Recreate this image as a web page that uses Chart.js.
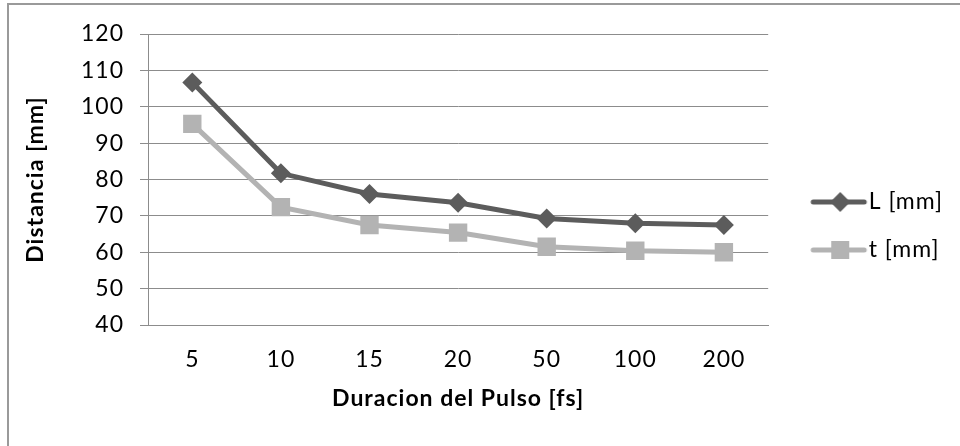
<!DOCTYPE html>
<html>
<head>
<meta charset="utf-8">
<script src="https://cdn.jsdelivr.net/npm/chart.js@4/dist/chart.umd.min.js"></script>
<style>
  html, body { margin: 0; padding: 0; background: #fff; }
  #wrap { position: relative; width: 960px; height: 446px; }
</style>
</head>
<body>
<div id="wrap"><canvas id="chart" width="960" height="446"></canvas></div>
<script>
// datos
var categorias = ['5', '10', '15', '20', '50', '100', '200'];
var serieL = [106.7, 81.7, 76, 73.6, 69.3, 68, 67.5];
var serieT = [95.3, 72.4, 67.5, 65.4, 61.5, 60.4, 60];
var nombres = ['L [mm]', 't [mm]'];

var colorL = '#5c5c5c';
var colorT = '#b3b3b3';
var gris = '#8c8c8c';
var fuente = 'Lato, "Open Sans", sans-serif';
var tam = 23;

// icono de leyenda: linea con marcador
function iconoLeyenda(color, forma) {
    var c = document.createElement('canvas');
    c.width = 90; c.height = 24;
    var g = c.getContext('2d');
    g.strokeStyle = color;
    g.lineWidth = 5;
    g.lineCap = 'round';
    g.beginPath(); g.moveTo(33, 12); g.lineTo(84, 12); g.stroke();
    g.fillStyle = color;
    if (forma === 'rombo') {
        g.beginPath();
        g.moveTo(60, 2); g.lineTo(70, 12); g.lineTo(60, 22); g.lineTo(50, 12);
        g.closePath(); g.fill();
    } else {
        g.fillRect(51, 3, 18, 18);
    }
    return c;
}
var iconos = [iconoLeyenda(colorL, 'rombo'), iconoLeyenda(colorT, 'cuadro')];

// marco del grafico + espaciado de letras (tipo Calibri)
var marco = {
    id: 'marco',
    beforeUpdate: function(chart) { chart.ctx.letterSpacing = '1px'; },
    beforeDraw: function(chart) {
        var ctx = chart.ctx;
        ctx.letterSpacing = '1px';
        ctx.save();
        ctx.fillStyle = '#9a9a9a';
        ctx.fillRect(7, 3, 2, 446);
        ctx.fillRect(7, 3, 960, 2);
        ctx.restore();
    }
};

new Chart(document.getElementById('chart'), {
    type: 'line',
    data: {
        labels: categorias,
        datasets: [{
            label: nombres[0],
            data: serieL,
            borderColor: colorL,
            backgroundColor: colorL,
            borderWidth: 5,
            pointStyle: 'rectRot',
            pointRadius: 10,
            pointBorderWidth: 0,
            pointBackgroundColor: colorL,
            tension: 0
        }, {
            label: nombres[1],
            data: serieT,
            borderColor: colorT,
            backgroundColor: colorT,
            borderWidth: 5,
            pointStyle: 'rect',
            pointRadius: 13,
            pointBorderWidth: 0,
            pointBackgroundColor: colorT,
            tension: 0
        }]
    },
    options: {
        responsive: false,
        animation: false,
        layout: { padding: { left: 8, top: 34, right: 7, bottom: 28 } },
        plugins: {
            tooltip: { enabled: false },
            legend: {
                position: 'right',
                labels: {
                    usePointStyle: true,
                    pointStyleWidth: 64,
                    padding: 25,
                    color: '#000',
                    font: { family: fuente, size: tam },
                    generateLabels: function(chart) {
                        var items = Chart.defaults.plugins.legend.labels.generateLabels(chart);
                        items.forEach(function(it, i) { it.pointStyle = iconos[i]; });
                        return items;
                    }
                }
            }
        },
        scales: {
            x: {
                offset: true,
                grid: { display: false, drawTicks: false, tickLength: 0 },
                border: { display: true, color: gris, width: 1 },
                ticks: { color: '#000', padding: 21, font: { family: fuente, size: tam } },
                title: {
                    display: true,
                    text: 'Duracion del Pulso [fs]',
                    color: '#000',
                    font: { family: fuente, size: tam, weight: 'bold' },
                    padding: { top: 0, bottom: 6 }
                },
                afterFit: function(s) { s.height = 93; }
            },
            y: {
                min: 40,
                max: 120,
                ticks: { stepSize: 10, color: '#000', padding: 16, font: { family: fuente, size: tam } },
                grid: { color: gris, lineWidth: 1, tickLength: 8, drawTicks: true },
                border: { display: true, color: gris, width: 1 },
                title: {
                    display: true,
                    text: 'Distancia [mm]',
                    color: '#000',
                    font: { family: fuente, size: tam, weight: 'bold' },
                    padding: { top: 14, bottom: 0 }
                },
                afterFit: function(s) { s.width = 140; }
            }
        }
    },
    plugins: [marco]
});
</script>
</body>
</html>
